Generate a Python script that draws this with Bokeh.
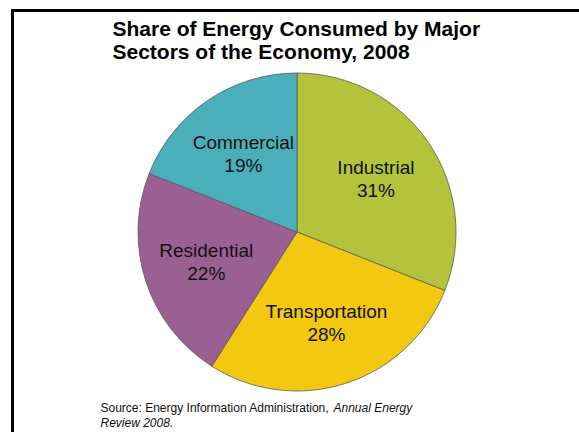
import numpy as np
from bokeh.plotting import figure
from bokeh.models import Range1d, Label, ColumnDataSource
from bokeh.core.properties import value
from bokeh.embed import file_html
from bokeh.resources import INLINE

# ---- data ----
sectors = ["Industrial", "Transportation", "Residential", "Commercial"]
shares = [31, 28, 22, 19]
colors = ["#B3C33B", "#F2C811", "#9A6094", "#4BAEBB"]
title_lines = ["Share of Energy Consumed by Major", "Sectors of the Economy, 2008"]
source_plain = "Source: Energy Information Administration, "
source_italic_1 = "Annual Energy"
source_italic_2 = "Review 2008"

W, H = 579, 432
p = figure(width=W, height=H, output_backend="svg", toolbar_location=None,
           x_range=Range1d(0, W), y_range=Range1d(0, H),
           x_axis_location=None, y_axis_location=None, min_border=0,
           tools="")
p.grid.visible = False
p.outline_line_color = None
p.background_fill_color = "white"
p.border_fill_color = "white"

# pie geometry (data units == pixels)
cx, cy, R = 296.5, 200.5, 159
frac = np.array(shares, dtype=float) / sum(shares)
cum = np.concatenate([[0], np.cumsum(frac)])
start = np.pi / 2 - 2 * np.pi * cum[:-1]
end = np.pi / 2 - 2 * np.pi * cum[1:]
mid = (start + end) / 2
lr = 0.6 * R
lx = cx + lr * np.cos(mid)
ly = cy + lr * np.sin(mid)

src = ColumnDataSource(dict(sector=sectors, pct=[f"{s}%" for s in shares],
                            start=start, end=end, color=colors,
                            lx=lx, ly_top=ly + 11, ly_bot=ly - 12))
p.wedge(x=cx, y=cy, radius=R, start_angle="start", end_angle="end",
        direction="clock", fill_color="color", line_color="#5a5a5a",
        line_width=0.8, source=src)
p.text(x="lx", y="ly_top", text="sector", source=src, text_align="center",
       text_baseline="middle", text_font=value("Liberation Sans"),
       text_font_size="19px", text_color="#111111")
p.text(x="lx", y="ly_bot", text="pct", source=src, text_align="center",
       text_baseline="middle", text_font=value("Liberation Sans"),
       text_font_size="19px", text_color="#111111")

# frame (top and left rules)
p.segment(x0=[11, 12], y0=[422, 423], x1=[W + 5, 12], y1=[422, -5],
          line_color="black", line_width=3)

# title
for i, t in enumerate(title_lines):
    p.add_layout(Label(x=112, y=392.5 - 23 * i, x_units="screen", y_units="screen",
                       text=t, text_font="Liberation Sans", text_font_style="bold",
                       text_font_size="21px", text_color="black",
                       text_baseline="bottom", text_align="left"))

# source note
p.add_layout(Label(x=100, y=18, x_units="screen", y_units="screen",
                   text=source_plain, text_font="Liberation Sans",
                   text_font_size="12px", text_color="#111111"))
p.add_layout(Label(x=333, y=18, x_units="screen", y_units="screen",
                   text=source_italic_1, text_font="Liberation Sans",
                   text_font_style="italic", text_font_size="12px",
                   text_color="#111111"))
p.add_layout(Label(x=100, y=2.5, x_units="screen", y_units="screen",
                   text=source_italic_2 + ".", text_font="Liberation Sans",
                   text_font_style="italic", text_font_size="12px",
                   text_color="#111111"))

open("out.html", "w").write(file_html(p, INLINE))
